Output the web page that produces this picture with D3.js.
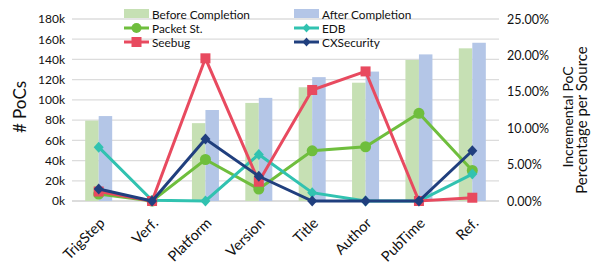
<!DOCTYPE html>
<html><head><meta charset="utf-8">
<script src="https://cdn.jsdelivr.net/npm/d3@7"></script>
<style>body{margin:0;background:#fff}svg{font-family:Lato,"Open Sans",sans-serif}</style>
</head><body><svg id="c" width="594" height="267"></svg>
<script>
const categories = ["TrigStep","Verf.","Platform","Version","Title","Author","PubTime","Ref."];
const beforeCompletion = [79500, 0, 77000, 97000, 112500, 117000, 139500, 151000];
const afterCompletion = [84000, 0, 90000, 102000, 122500, 128000, 145000, 156500];
const packetSt = [0.95, 0, 5.7, 1.65, 6.9, 7.45, 12.05, 4.2];
const edb = [7.4, 0.1, 0, 6.4, 1.15, 0, 0, 3.7];
const seebug = [1.3, 0, 19.6, 2.65, 15.25, 17.8, 0, 0.45];
const cxSecurity = [1.65, 0, 8.5, 3.4, 0, 0, 0, 6.9];
const leftTicks = [0,20000,40000,60000,80000,100000,120000,140000,160000,180000];
const rightTicks = [0,5,10,15,20,25];

const svg = d3.select("#c");
const L = 72, R = 499, T = 19, B = 201;
const x = d3.scaleBand().domain(categories).range([L, R]);
const yL = d3.scaleLinear().domain([0,180000]).range([B, T]);
const yR = d3.scaleLinear().domain([0,25]).range([B, T]);

// gridlines
svg.append("g").selectAll("line").data(leftTicks).join("line")
  .attr("x1", L).attr("x2", R).attr("y1", d=>yL(d)).attr("y2", d=>yL(d))
  .attr("stroke", d=>d===0?"#d0d0d0":"#dcdcdc").attr("stroke-width", 1.3);

// left axis
const la = svg.append("g").attr("transform",`translate(${L},0)`)
  .call(d3.axisLeft(yL).tickValues(leftTicks).tickFormat(d=>d/1000+"k").tickSize(0).tickPadding(7));
la.select(".domain").remove();
la.selectAll("text").attr("font-size",12).attr("fill","#111").style("font-family","Lato, sans-serif");

// right axis
const ra = svg.append("g").attr("transform",`translate(${R},0)`)
  .call(d3.axisRight(yR).tickValues(rightTicks).tickFormat(d=>d.toFixed(2)+"%").tickSize(0).tickPadding(8));
ra.select(".domain").remove();
ra.selectAll("text").attr("font-size",12.5).attr("fill","#111").style("font-family","Lato, sans-serif");

// x labels
const xa = svg.append("g").attr("transform",`translate(0,${B})`)
  .call(d3.axisBottom(x).tickSize(0).tickPadding(0));
xa.select(".domain").remove();
xa.selectAll("text").attr("font-size",14.5).attr("fill","#111").style("font-family","Lato, sans-serif")
  .attr("text-anchor","end").attr("dy",0)
  .attr("transform","translate(7,23) rotate(-45)");

// bars
const bw = 13.5;
svg.append("g").selectAll("rect").data(categories).join("rect")
  .attr("x", d=>x(d)+x.bandwidth()/2 - bw).attr("width", bw)
  .attr("y", (d,i)=>yL(beforeCompletion[i])).attr("height",(d,i)=>B-yL(beforeCompletion[i]))
  .attr("fill","#c6e0b4");
svg.append("g").selectAll("rect").data(categories).join("rect")
  .attr("x", d=>x(d)+x.bandwidth()/2).attr("width", bw)
  .attr("y", (d,i)=>yL(afterCompletion[i])).attr("height",(d,i)=>B-yL(afterCompletion[i]))
  .attr("fill","#b4c6e7");

const cx = d=>x(d)+x.bandwidth()/2;
const series = [
  {name:"Packet St.", vals:packetSt, color:"#6fbe3d", marker:"circle"},
  {name:"EDB", vals:edb, color:"#31c2b0", marker:"diamond"},
  {name:"Seebug", vals:seebug, color:"#e84a5f", marker:"square"},
  {name:"CXSecurity", vals:cxSecurity, color:"#203f7e", marker:"diamond"}
];
const line = d3.line().x((d,i)=>cx(categories[i])).y(d=>yR(d));
function marker(g, type, color, px, py, s){
  if(type==="circle") g.append("circle").attr("cx",px).attr("cy",py).attr("r",s*0.5).attr("fill",color);
  else if(type==="square") g.append("rect").attr("x",px-s*0.5).attr("y",py-s*0.5).attr("width",s).attr("height",s).attr("fill",color);
  else g.append("path").attr("d",`M${px},${py-s*0.55}L${px+s*0.5},${py}L${px},${py+s*0.55}L${px-s*0.5},${py}Z`).attr("fill",color);
}
series.forEach(s=>{
  const g = svg.append("g");
  g.append("path").datum(s.vals).attr("d", line).attr("fill","none").attr("stroke", s.color).attr("stroke-width",3);
  s.vals.forEach((v,i)=>marker(g, s.marker, s.color, cx(categories[i]), yR(v), s.marker==="circle"?11:10));
});

// legend
const leg = svg.append("g").style("font-family","Lato, sans-serif").attr("font-size",11.8).attr("fill","#111");
const legItems = [
  {label:"Before Completion", type:"bar", color:"#c6e0b4", col:0, row:0},
  {label:"After Completion", type:"bar", color:"#b4c6e7", col:1, row:0},
  {label:"Packet St.", type:"circle", color:"#6fbe3d", col:0, row:1},
  {label:"EDB", type:"diamond", color:"#31c2b0", col:1, row:1},
  {label:"Seebug", type:"square", color:"#e84a5f", col:0, row:2},
  {label:"CXSecurity", type:"diamond", color:"#203f7e", col:1, row:2}
];
legItems.forEach(it=>{
  const lx = it.col===0?124:294, ly = 14 + it.row*14;
  if(it.type==="bar") leg.append("rect").attr("x",lx).attr("y",ly-5).attr("width",25).attr("height",9).attr("fill",it.color);
  else {
    leg.append("line").attr("x1",lx).attr("x2",lx+25).attr("y1",ly).attr("y2",ly).attr("stroke",it.color).attr("stroke-width",3);
    marker(leg, it.type, it.color, lx+12.5, ly, it.type==="circle"?10:it.type==="square"?10:8);
  }
  leg.append("text").attr("x",lx+28).attr("y",ly+4.5).text(it.label);
});

// axis titles
svg.append("text").attr("transform","translate(26,107) rotate(-90)").attr("text-anchor","middle")
  .attr("font-size",17).attr("fill","#111").style("font-family","Lato, sans-serif").text("# PoCs");
svg.append("text").attr("transform","translate(573,117) rotate(-90)").attr("text-anchor","middle")
  .attr("font-size",14).attr("fill","#111").style("font-family","Lato, sans-serif").text("Incremental PoC");
svg.append("text").attr("transform","translate(587,120) rotate(-90)").attr("text-anchor","middle")
  .attr("font-size",15).attr("fill","#111").style("font-family","Lato, sans-serif").text("Percentage per Source");
</script></body></html>
